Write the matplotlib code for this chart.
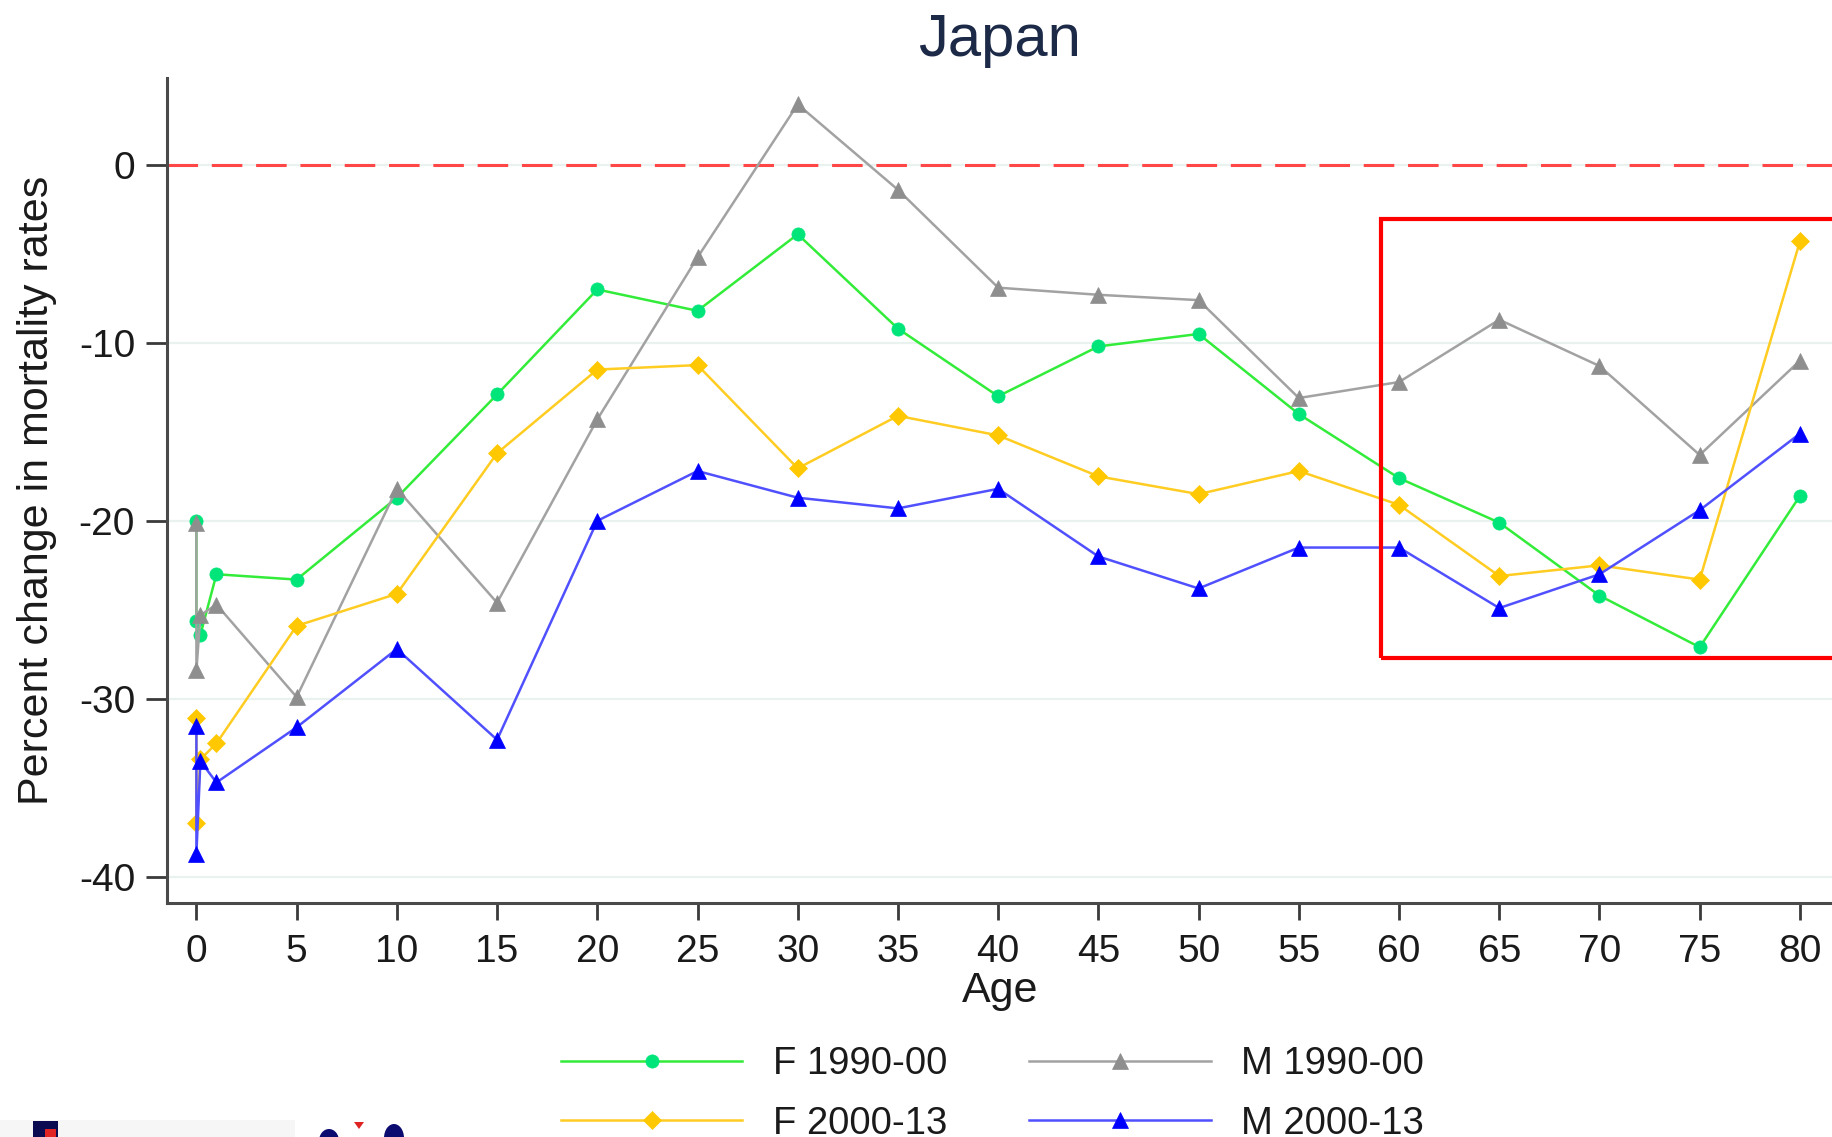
import matplotlib
matplotlib.use("Agg")
import matplotlib.pyplot as plt
from matplotlib.patches import Rectangle, Ellipse, Polygon

plt.rcParams["font.family"] = ["Liberation Sans", "DejaVu Sans"]
plt.rcParams["axes.unicode_minus"] = False

# Age groups (the first three entries are sub-groups within age 0)
ages = [0, 0, 0.2, 1, 5, 10, 15, 20, 25, 30, 35, 40, 45, 50, 55, 60, 65, 70, 75, 80]

f_1990_00 = [-20.0, -25.6, -26.4, -23.0, -23.3, -18.7, -12.9, -7.0, -8.2, -3.9,
             -9.2, -13.0, -10.2, -9.5, -14.0, -17.6, -20.1, -24.2, -27.1, -18.6]
m_1990_00 = [-20.1, -28.4, -25.3, -24.7, -29.9, -18.2, -24.6, -14.3, -5.2, 3.4,
             -1.4, -6.9, -7.3, -7.6, -13.1, -12.2, -8.7, -11.3, -16.3, -11.0]
f_2000_13 = [-31.1, -37.0, -33.4, -32.5, -25.9, -24.1, -16.2, -11.5, -11.25, -17.05,
             -14.1, -15.2, -17.5, -18.5, -17.2, -19.1, -23.1, -22.5, -23.3, -4.3]
m_2000_13 = [-31.5, -38.7, -33.5, -34.7, -31.6, -27.2, -32.3, -20.0, -17.2, -18.7,
             -19.3, -18.2, -22.0, -23.8, -21.5, -21.5, -24.9, -23.0, -19.4, -15.1]

x_ticks = list(range(0, 81, 5))
y_ticks = [0, -10, -20, -30, -40]

W, H = 1833, 1137
fig = plt.figure(figsize=(W / 100, H / 100), dpi=100)
fig.patch.set_facecolor("white")

ax = fig.add_axes([167 / W, 1 - 903 / H, (W - 167) / W, (903 - 78) / H])

# Light horizontal grid
for yv in y_ticks:
    ax.axhline(yv, color="#e9f2ef", lw=1.6, zorder=0)

# Zero reference line
ax.axhline(0, color="#ff4747", lw=2.2, dashes=(10, 4.5), zorder=1)

series = [
    ("F 1990-00", f_1990_00, "#33ec3a", "#00e57a", "o", 9.5),
    ("M 1990-00", m_1990_00, "#a2a2a2", "#8e8e8e", "^", 12),
    ("F 2000-13", f_2000_13, "#ffcc22", "#ffc800", "D", 9),
    ("M 2000-13", m_2000_13, "#5050ff", "#0000ff", "^", 12),
]
handles = {}
for i, (label, vals, lc, mc, mk, ms) in enumerate(series):
    h, = ax.plot(ages, vals, color=lc, lw=1.8, marker=mk, ms=ms,
                 markerfacecolor=mc, markeredgecolor=mc, markeredgewidth=0.5,
                 label=label, zorder=3 + i)
    handles[label] = h

ax.set_xlim(-1.467, 81.65)
ax.set_ylim(-41.47, 4.88)
ax.set_xticks(x_ticks)
ax.set_yticks(y_ticks)
ax.set_yticklabels([str(v) for v in y_ticks])

for side in ("top", "right"):
    ax.spines[side].set_visible(False)
for side in ("left", "bottom"):
    ax.spines[side].set_color("#4a4a4a")
    ax.spines[side].set_linewidth(2.2)

ax.tick_params(axis="x", length=12.5, width=2, color="#3a3a3a", pad=10,
               labelsize=28, labelcolor="#1a1a1a")
ax.tick_params(axis="y", length=15, width=2, color="#3a3a3a", pad=8,
               labelsize=28, labelcolor="#1a1a1a")

ax.set_title("Japan", fontsize=43, color="#1c2a48", pad=16)
ax.set_xlabel("Age", fontsize=31, color="#1a1a1a")
ax.xaxis.set_label_coords(0.5, -0.082)
ax.set_ylabel("Percent change in mortality rates", fontsize=31, color="#1a1a1a")
ax.yaxis.set_label_coords(-0.066, 0.5)

# Highlight box over the older ages
ax.add_patch(Rectangle((59.12, -27.7), 40, 24.66, fill=False, edgecolor="#ff0000",
                       lw=3.0, clip_on=False, zorder=10))

order = ["F 1990-00", "F 2000-13", "M 1990-00", "M 2000-13"]
fig.legend([handles[k] for k in order], order, ncol=2, frameon=False,
           loc="upper left", bbox_to_anchor=(561 / W, 1 - 1046 / H),
           borderpad=0, borderaxespad=0, fontsize=27.5, handlelength=4.75,
           handletextpad=0.8, columnspacing=2.15, labelspacing=0.62,
           labelcolor="#1a1a1a")


def fx(x):
    return x / W


def fy(y):
    return 1 - y / H


# Partial logo strip at the bottom-left corner
fig.add_artist(Rectangle((fx(0), fy(1137)), fx(295), 17 / H, transform=fig.transFigure,
                         facecolor="#f6f6f6", edgecolor="none"))
fig.add_artist(Rectangle((fx(33), fy(1137)), 25 / W, 16 / H, transform=fig.transFigure,
                         facecolor="#0b0b52", edgecolor="none"))
fig.add_artist(Rectangle((fx(45), fy(1137)), 11 / W, 8 / H, transform=fig.transFigure,
                         facecolor="#e02424", edgecolor="none"))
fig.add_artist(Ellipse((fx(329), fy(1141)), 20 / W, 24 / H, transform=fig.transFigure,
                       facecolor="#0b0b70", edgecolor="none"))
fig.add_artist(Ellipse((fx(394), fy(1138)), 20 / W, 28 / H, transform=fig.transFigure,
                       facecolor="#0b0b70", edgecolor="none"))
fig.add_artist(Polygon([(fx(354), fy(1122)), (fx(364), fy(1122)), (fx(359), fy(1129))],
                       closed=True, transform=fig.transFigure,
                       facecolor="#e02424", edgecolor="none"))

fig.savefig("out.png", dpi=100, facecolor="white")
